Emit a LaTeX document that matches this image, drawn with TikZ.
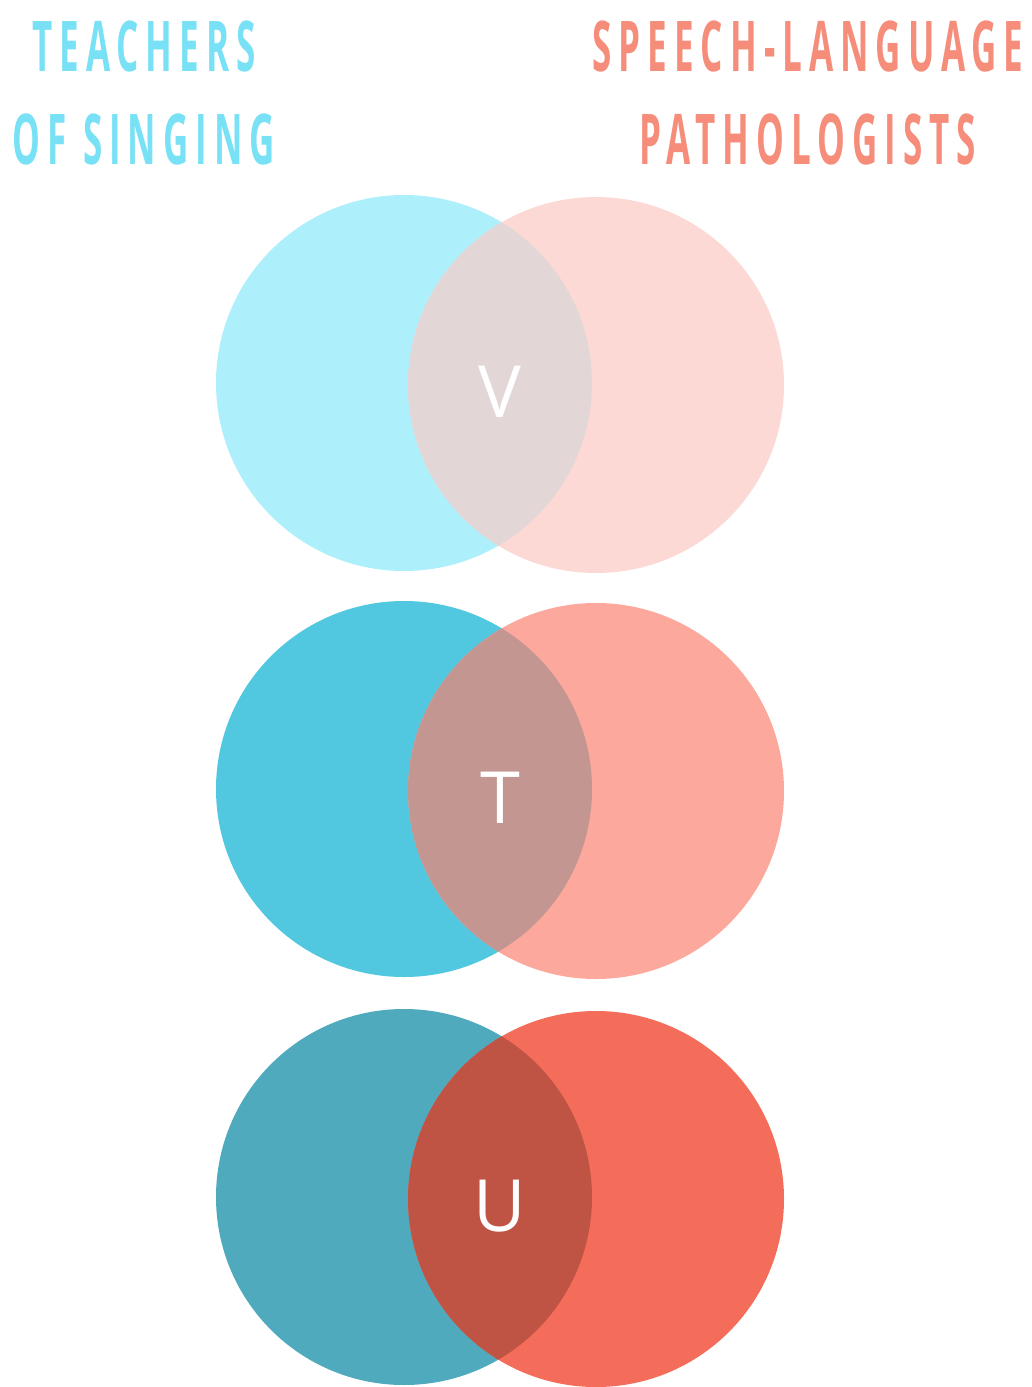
\documentclass[tikz,border=0pt]{standalone}
\usepackage{fontspec}
\usepackage{xcolor}
\usepackage{tikz}
\usetikzlibrary{positioning}
\newfontfamily\headfont[FakeStretch=0.5, LetterSpace=10]{Open Sans}
\newfontfamily\letterfont{Open Sans}
\definecolor{paleblue}{RGB}{173,240,252}
\definecolor{palered}{RGB}{252,217,212}
\definecolor{palemix}{RGB}{227,214,214}
\definecolor{midblue}{RGB}{82,200,224}
\definecolor{midred}{RGB}{252,168,156}
\definecolor{midmix}{RGB}{196,150,146}
\definecolor{deepblue}{RGB}{79,170,189}
\definecolor{deepred}{RGB}{244,109,90}
\definecolor{deepmix}{RGB}{191,84,68}
\definecolor{headblue}{RGB}{120,225,245}
\definecolor{headred}{RGB}{246,140,122}

\begin{document}
\begin{tikzpicture}[x=1pt, y=-1pt,
  set/.style={circle, minimum size=376pt, inner sep=0pt},
  letter/.style={text=white, font=\letterfont\fontsize{72}{72}\selectfont},
  head/.style={align=center, font=\headfont\bfseries\fontsize{70}{93}\selectfont}]
  \useasboundingbox[fill=white] (0,0) rectangle (1032,1387);
  % titles
  \node[head, text=headblue] (tos) at (144,93) {TEACHERS\\OF SINGING};
  \node[head, text=headred] (slp) at (808,93) {SPEECH-LANGUAGE\\PATHOLOGISTS};
  % three venn pairs
  \foreach \name/\y/\lc/\rc/\mc/\txt in {v/383/paleblue/palered/palemix/V,
      t/789/midblue/midred/midmix/T,
      u/1197/deepblue/deepred/deepmix/U}{
    \node[set, fill=\lc] (\name L) at (404,\y) {};
    \node[set, fill=\rc] (\name R) at (596,\y+2) {};
    \begin{scope}
      \clip (\name L.center) circle [radius=188pt];
      \fill[\mc] (\name R.center) circle [radius=188pt];
    \end{scope}
    \node[letter] (\name) at (500,\y+9) {\txt};
  }
\end{tikzpicture}
\end{document}
